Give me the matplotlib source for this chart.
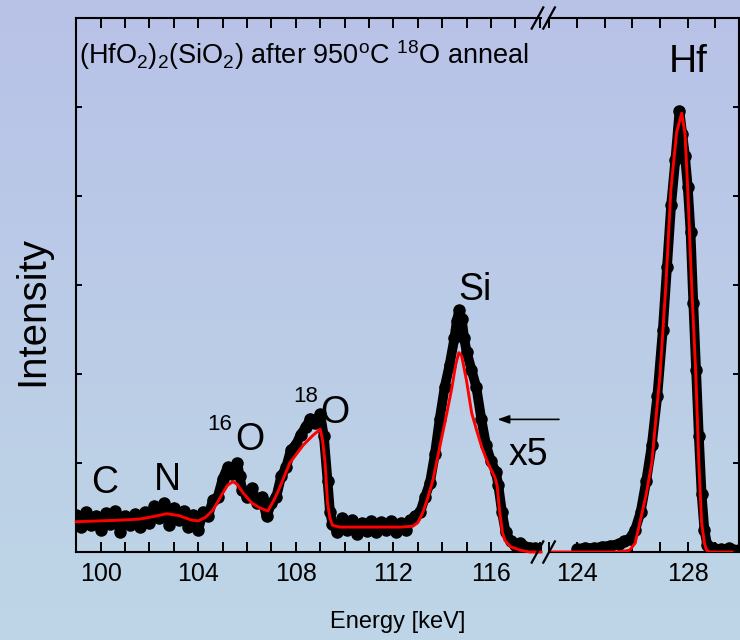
import numpy as np
import matplotlib
matplotlib.use("Agg")
import matplotlib.pyplot as plt
from matplotlib.lines import Line2D
from matplotlib.ticker import MultipleLocator, FixedLocator, NullFormatter

plt.rcParams['font.family'] = ['Liberation Sans', 'DejaVu Sans']
plt.rcParams['mathtext.fontset'] = 'custom'
plt.rcParams['mathtext.rm'] = 'Liberation Sans'
plt.rcParams['mathtext.default'] = 'regular'

# измеренные точки, низкоэнергетическая часть (x5)
data_left_x = [99.0, 99.2, 99.4, 99.6, 99.8, 100.0, 100.2, 100.4, 100.6, 100.8,
               101.0, 101.2, 101.4, 101.6, 101.8, 102.0, 102.2, 102.4, 102.6, 102.8,
               103.0, 103.2, 103.4, 103.6, 103.8, 104.0, 104.2, 104.4, 104.6, 104.8,
               105.0, 105.2, 105.4, 105.6, 105.7, 105.8, 106.0, 106.2, 106.4, 106.6,
               106.8, 107.0, 107.2, 107.4, 107.6, 107.8, 108.0, 108.2, 108.4, 108.6,
               108.8, 109.0, 109.15, 109.3, 109.4, 109.5, 109.7, 109.9, 110.1, 110.3,
               110.5, 110.7, 110.9, 111.1, 111.3, 111.5, 111.7, 111.9, 112.1, 112.3,
               112.5, 112.7, 112.9, 113.1, 113.3, 113.5, 113.7, 113.9, 114.1, 114.3,
               114.5, 114.6, 114.7, 114.8, 114.9, 115.0, 115.2, 115.4, 115.6, 115.8,
               116.0, 116.2, 116.3, 116.45, 116.6, 116.8, 117.0, 117.2, 117.4, 117.6,
               117.8, 118.0]
data_left_y = [0.42, 0.28, 0.45, 0.30, 0.40, 0.25, 0.44, 0.32, 0.46, 0.22,
               0.40, 0.30, 0.43, 0.28, 0.45, 0.33, 0.52, 0.38, 0.55, 0.30,
               0.50, 0.36, 0.46, 0.28, 0.42, 0.25, 0.45, 0.40, 0.58, 0.62,
               0.82, 0.95, 0.88, 1.00, 0.85, 0.70, 0.62, 0.72, 0.55, 0.62,
               0.40, 0.55, 0.62, 0.85, 0.95, 1.15, 1.20, 1.32, 1.40, 1.50,
               1.45, 1.55, 1.30, 0.80, 0.45, 0.32, 0.22, 0.38, 0.25, 0.36,
               0.20, 0.33, 0.24, 0.35, 0.22, 0.34, 0.25, 0.35, 0.22, 0.33,
               0.25, 0.36, 0.40, 0.45, 0.62, 0.78, 1.10, 1.50, 1.85, 2.10,
               2.40, 2.60, 2.72, 2.62, 2.40, 2.25, 2.05, 1.85, 1.50, 1.20,
               1.02, 0.90, 0.75, 0.45, 0.22, 0.12, 0.08, 0.10, 0.06, 0.05,
               0.04, 0.03]

# измеренные точки, пик Hf
data_right_x = [124.0, 124.3, 124.6, 124.9, 125.2, 125.5, 125.7, 125.9, 126.1, 126.3,
                126.5, 126.7, 126.9, 127.1, 127.25, 127.4, 127.55, 127.7, 127.8, 127.9,
                128.0, 128.1, 128.2, 128.3, 128.4, 128.5, 128.6, 128.7, 128.9, 129.2,
                129.5, 129.85]
data_right_y = [0.03, 0.05, 0.04, 0.06, 0.07, 0.09, 0.12, 0.15, 0.25, 0.45,
                0.80, 1.20, 1.75, 2.50, 3.20, 3.90, 4.40, 4.95, 4.70, 4.45,
                4.10, 3.60, 2.80, 2.05, 1.30, 0.65, 0.25, 0.08, 0.04, 0.03,
                0.04, 0.02]

# подгонка (красная линия)
fit_left_x = [99.0, 100.0, 101.0, 101.6, 102.2, 102.7, 103.2, 103.7, 104.0, 104.3,
              104.6, 105.0, 105.2, 105.42, 105.6, 105.85, 106.2, 106.5, 106.85, 107.1,
              107.35, 107.75, 108.3, 108.7, 109.0, 109.1, 109.2, 109.3, 109.4, 109.5,
              109.8, 110.6, 111.5, 112.3, 112.8, 113.0, 113.2, 113.4, 113.62, 113.9,
              114.19, 114.4, 114.55, 114.68, 114.8, 115.0, 115.21, 115.42, 115.62, 115.87,
              116.05, 116.16, 116.25, 116.36, 116.47, 116.57, 116.8, 117.2, 117.6, 118.05]
fit_left_y = [0.34, 0.35, 0.36, 0.37, 0.40, 0.43, 0.41, 0.36, 0.35, 0.39,
              0.47, 0.66, 0.75, 0.79, 0.76, 0.66, 0.55, 0.50, 0.46, 0.58,
              0.73, 1.00, 1.20, 1.31, 1.38, 1.25, 1.00, 0.55, 0.38, 0.30,
              0.28, 0.28, 0.28, 0.28, 0.29, 0.33, 0.44, 0.60, 0.81, 1.18,
              1.56, 1.85, 2.10, 2.24, 2.20, 1.92, 1.56, 1.36, 1.18, 1.00,
              0.90, 0.84, 0.75, 0.44, 0.22, 0.13, 0.06, 0.02, 0.0, 0.0]
fit_right_x = [123.0, 125.5, 125.9, 126.1, 126.27, 126.5, 126.7, 127.0, 127.21, 127.39,
               127.6, 127.78, 127.9, 128.0, 128.14, 128.29, 128.4, 128.5, 128.6, 128.68,
               128.8, 129.6]
fit_right_y = [0.0, 0.0, 0.02, 0.10, 0.33, 0.65, 1.0, 2.0, 3.0, 4.07,
               4.72, 4.93, 4.70, 4.07, 3.0, 2.0, 1.0, 0.33, 0.10, 0.02,
               0.0, 0.0]

left_ticks = [100, 104, 108, 112, 116]
right_ticks = [124, 128]

fig = plt.figure(figsize=(7.4, 6.4), dpi=100)

# фон-градиент
bg = fig.add_axes([0, 0, 1, 1], zorder=-10)
top = np.array([184, 194, 232]) / 255
bottom = np.array([190, 214, 230]) / 255
t = np.linspace(0, 1, 256)[:, None]
grad = top[None, :] * (1 - t) + bottom[None, :] * t
bg.imshow(grad[:, None, :], aspect='auto', extent=[0, 1, 0, 1])
bg.axis('off')

W, H = 740, 640
ax1 = fig.add_axes([76 / W, 1 - 552 / H, (541 - 76) / W, (552 - 18) / H])
ax2 = fig.add_axes([549 / W, 1 - 552 / H, (739 - 549) / W, (552 - 18) / H])

ax1.set_xlim(98.99, 118.05)
ax1.xaxis.set_major_locator(FixedLocator(left_ticks))
ax2.set_xlim(122.99, 129.85)
ax2.xaxis.set_major_locator(FixedLocator(right_ticks))

for ax in (ax1, ax2):
    ax.set_facecolor('none')
    ax.set_ylim(0, 6)
    ax.yaxis.set_major_locator(MultipleLocator(1))
    ax.yaxis.set_major_formatter(NullFormatter())
    ax.xaxis.set_minor_locator(MultipleLocator(1))
    for s in ax.spines.values():
        s.set_linewidth(1.5)
    ax.tick_params(axis='x', which='major', direction='in', bottom=True, top=True,
                   length=7, width=1.4, labelsize=18, pad=7)
    ax.tick_params(axis='x', which='minor', direction='in', bottom=True, top=True,
                   length=7, width=1.4)
    ax.tick_params(axis='y', direction='in', length=4.5, width=1.4)

ax1.spines['right'].set_visible(False)
ax1.tick_params(axis='y', left=True, right=False)
ax2.spines['left'].set_visible(False)
ax2.tick_params(axis='y', left=False, right=True)

ax1.plot(data_left_x, data_left_y, color='black', lw=7, marker='o', ms=8,
         solid_capstyle='round', solid_joinstyle='round', zorder=2)
ax2.plot(data_right_x, data_right_y, color='black', lw=7, marker='o', ms=8,
         solid_capstyle='round', solid_joinstyle='round', zorder=2)
ax1.plot(fit_left_x, fit_left_y, color='red', lw=2.1, zorder=3, clip_on=False)
ax2.plot(fit_right_x, fit_right_y, color='red', lw=2.1, zorder=3)

# подписи пиков
ax1.text(100.18, 0.78, 'C', fontsize=27, ha='center', va='center')
ax1.text(102.72, 0.81, 'N', fontsize=27, ha='center', va='center')
ax1.text(104.89, 1.43, '16', fontsize=16, ha='center', va='center')
ax1.text(106.12, 1.26, 'O', fontsize=27, ha='center', va='center')
ax1.text(108.41, 1.75, '18', fontsize=16, ha='center', va='center')
ax1.text(109.6, 1.56, 'O', fontsize=27, ha='center', va='center')
ax1.text(115.34, 2.94, 'Si', fontsize=27, ha='center', va='center')
ax1.text(117.52, 1.09, 'x5', fontsize=27, ha='center', va='center', clip_on=False)
ax2.text(128.0, 5.5, 'Hf', fontsize=28, ha='center', va='center')
ax1.text(99.1, 5.58, r"(HfO$_2$)$_2$(SiO$_2$) after 950$^{o}$C $^{18}$O anneal",
         fontsize=19.5, ha='left', va='center')
ax1.annotate('', xy=(116.15, 1.49), xytext=(118.9, 1.49),
             arrowprops=dict(arrowstyle='-|>,head_length=0.7,head_width=0.25',
                             lw=1.2, color='black'),
             annotation_clip=False)

fig.text(398 / W, 1 - 622 / H, 'Energy [keV]', fontsize=17, ha='center', va='center')
fig.text(32 / W, 1 - 311 / H, 'Intensity', fontsize=29, rotation=90,
         ha='center', va='center')

# знаки разрыва оси
for yc in (552, 18):
    for xc in (537.5, 549.1):
        fig.add_artist(Line2D([(xc - 5.8) / W, (xc + 5.8) / W],
                              [1 - (yc + 10.6) / H, 1 - (yc - 10.6) / H],
                              color='black', lw=1.6, transform=fig.transFigure))

fig.savefig('out.png', dpi=100)
